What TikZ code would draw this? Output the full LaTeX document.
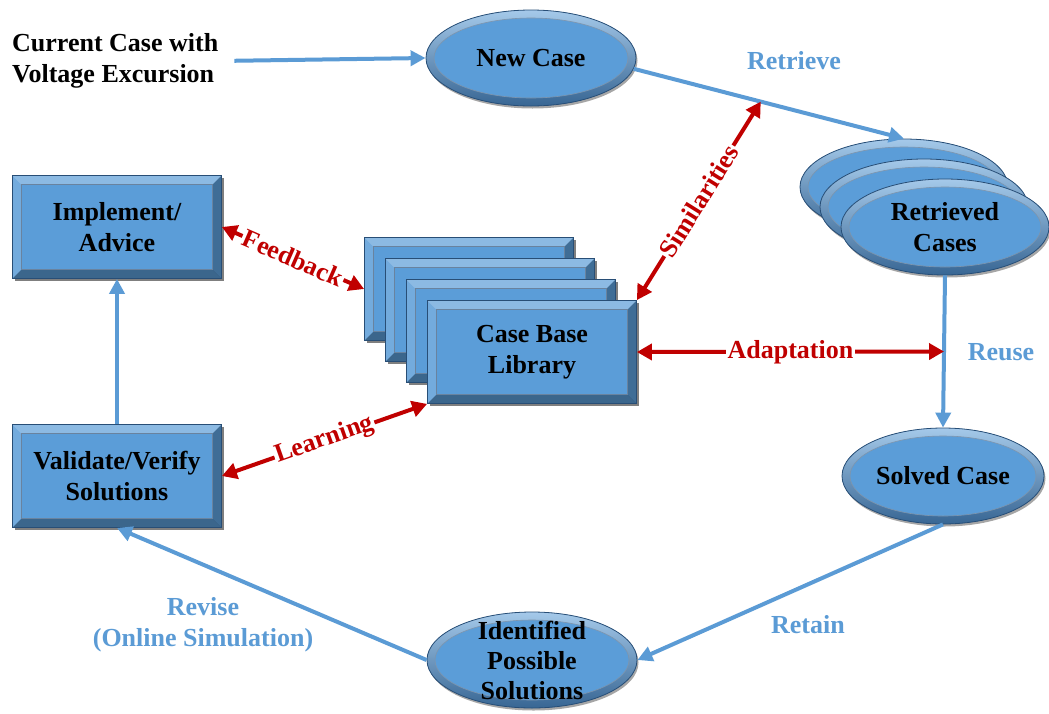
\documentclass[tikz,border=0pt]{standalone}
\usepackage{fontspec}
\setmainfont{Liberation Serif}
\usetikzlibrary{arrows.meta,shapes.geometric,shadows,calc}
\definecolor{boxblue}{RGB}{91,157,216}
\definecolor{edgeblue}{RGB}{40,78,118}
\definecolor{flowblue}{RGB}{91,155,213}
\definecolor{linkred}{RGB}{192,0,0}

% bevelled rim of a rectangular block
\newcommand\bevelrim{%
  \fill[white,opacity=.30] (path picture bounding box.north west) -- (path picture bounding box.north east)
    -- ([shift={(-9pt,-9pt)}]path picture bounding box.north east) -- ([shift={(9pt,-9pt)}]path picture bounding box.north west) -- cycle;
  \fill[white,opacity=.15] (path picture bounding box.north west) -- ([shift={(9pt,-9pt)}]path picture bounding box.north west)
    -- ([shift={(9pt,9pt)}]path picture bounding box.south west) -- (path picture bounding box.south west) -- cycle;
  \fill[black,opacity=.30] (path picture bounding box.north east) -- (path picture bounding box.south east)
    -- ([shift={(-9pt,9pt)}]path picture bounding box.south east) -- ([shift={(-9pt,-9pt)}]path picture bounding box.north east) -- cycle;
  \fill[black,opacity=.35] (path picture bounding box.south west) -- ([shift={(9pt,9pt)}]path picture bounding box.south west)
    -- ([shift={(-9pt,9pt)}]path picture bounding box.south east) -- (path picture bounding box.south east) -- cycle;
  \draw[edgeblue!70,line width=.6pt] ([shift={(9pt,-9pt)}]path picture bounding box.north west)
    rectangle ([shift={(-9pt,9pt)}]path picture bounding box.south east);
}
% bevelled rim of an elliptic disc
\newcommand\ovalrim{%
  \shade[even odd rule,top color=boxblue!55!white,bottom color=edgeblue!70!boxblue]
    let \p1=(path picture bounding box.north east), \p2=(path picture bounding box.center) in
    (\p2) ellipse ({\x1-\x2} and {abs(\y1-\y2)}) (\p2) ellipse ({\x1-\x2-8pt} and {abs(\y1-\y2)-8pt});
  \draw[edgeblue!60,line width=.6pt]
    let \p1=(path picture bounding box.north east), \p2=(path picture bounding box.center) in
    (\p2) ellipse ({\x1-\x2-8pt} and {abs(\y1-\y2)-8pt});
}

\begin{document}
\begin{tikzpicture}[x=1pt,y=-1pt,
  every node/.style={font=\fontsize{26}{30.5}\selectfont\bfseries},
  blockbox/.style={rectangle,minimum width=209pt,minimum height=103pt,inner sep=0pt,align=center,
    fill=boxblue,draw=edgeblue,line width=.8pt,
    drop shadow={shadow xshift=2.5pt,shadow yshift=-2.5pt,opacity=.5,fill=black},
    path picture={\bevelrim}},
  ovalbox/.style={ellipse,minimum width=#1,minimum height=96pt,inner sep=0pt,align=center,
    fill=boxblue,draw=edgeblue,line width=.8pt,
    drop shadow={shadow xshift=1.5pt,shadow yshift=-2.5pt,opacity=.35,fill=black},
    path picture={\ovalrim}},
  ovalbox/.default=208pt,
  flow/.style={draw=flowblue,line width=4pt,-{Triangle[length=15pt,width=15pt]}},
  link/.style={draw=linkred,line width=4pt,{Triangle[length=15pt,width=16pt]}-{Triangle[length=15pt,width=16pt]}},
  flowtext/.style={text=flowblue,align=center},
  linktext/.style={text=linkred,fill=white,inner sep=1.5pt}
]
\useasboundingbox (0,0) rectangle (1049,713);

% input text
\node[anchor=west,align=left,inner sep=0pt] (cur) at (12,61) {Current Case with\\Voltage Excursion};

% case nodes
\node[ovalbox=210pt] (newcase) at (531,58) {New Case};
\node[ovalbox] (ret1) at (904,187) {};
\node[ovalbox] (ret2) at (924,207) {};
\node[ovalbox] (ret3) at (945,227) {Retrieved\\Cases};
\node[ovalbox=202pt] (solved) at (943,476) {Solved Case};
\node[ovalbox=210pt,label={[align=center,font=\fontsize{26}{30}\selectfont\bfseries]center:Identified\\Possible\\Solutions}] (ident) at (532,660) {};

% case base library stack
\node[blockbox] (lib1) at (469,289) {};
\node[blockbox] (lib2) at (490,310) {};
\node[blockbox] (lib3) at (511,331) {};
\node[blockbox] (lib4) at (532,352) {Case Base\\Library};

% left-hand blocks
\node[blockbox] (impl) at (117,227) {Implement/\\Advice};
\node[blockbox] (val) at (117,476) {Validate/Verify\\Solutions};

% main cycle
\draw[flow,shorten <=16pt] (cur.east) -- (newcase.west);
\draw[flow] (newcase.-6) -- (ret1.north)
  coordinate[pos=.47] (simtop);
\draw[flow] (ret3.south) -- (solved.north)
  coordinate[pos=.5] (adtop);
\draw[flow] (solved.south) -- (ident.east);
\draw[flow] (ident.west) -- (val.south);
\draw[flow] (val.north) -- (impl.south);

% cycle stage labels
\node[flowtext] (lretrieve) at (794,61) {Retrieve};
\node[flowtext] (lreuse) at (1001,352) {Reuse};
\node[flowtext] (lretain) at (808,625) {Retain};
\node[flowtext,font=\fontsize{26}{31}\selectfont\bfseries] (lrevise) at (203,625) {Revise\\(Online Simulation)};

% links to the case base
\draw[link] (impl.east) -- (lib1.west)
  node[linktext,midway,sloped] (lfeed) {Feedback};
\draw[link] (lib4.north east) -- (simtop)
  node[linktext,midway,sloped] (lsim) {Similarities};
\draw[link] (lib4.east) -- (adtop)
  node[linktext,midway] (ladapt) {Adaptation};
\draw[link] (val.east) -- (lib4.south west)
  node[linktext,midway,sloped] (llearn) {Learning};
\end{tikzpicture}
\end{document}
